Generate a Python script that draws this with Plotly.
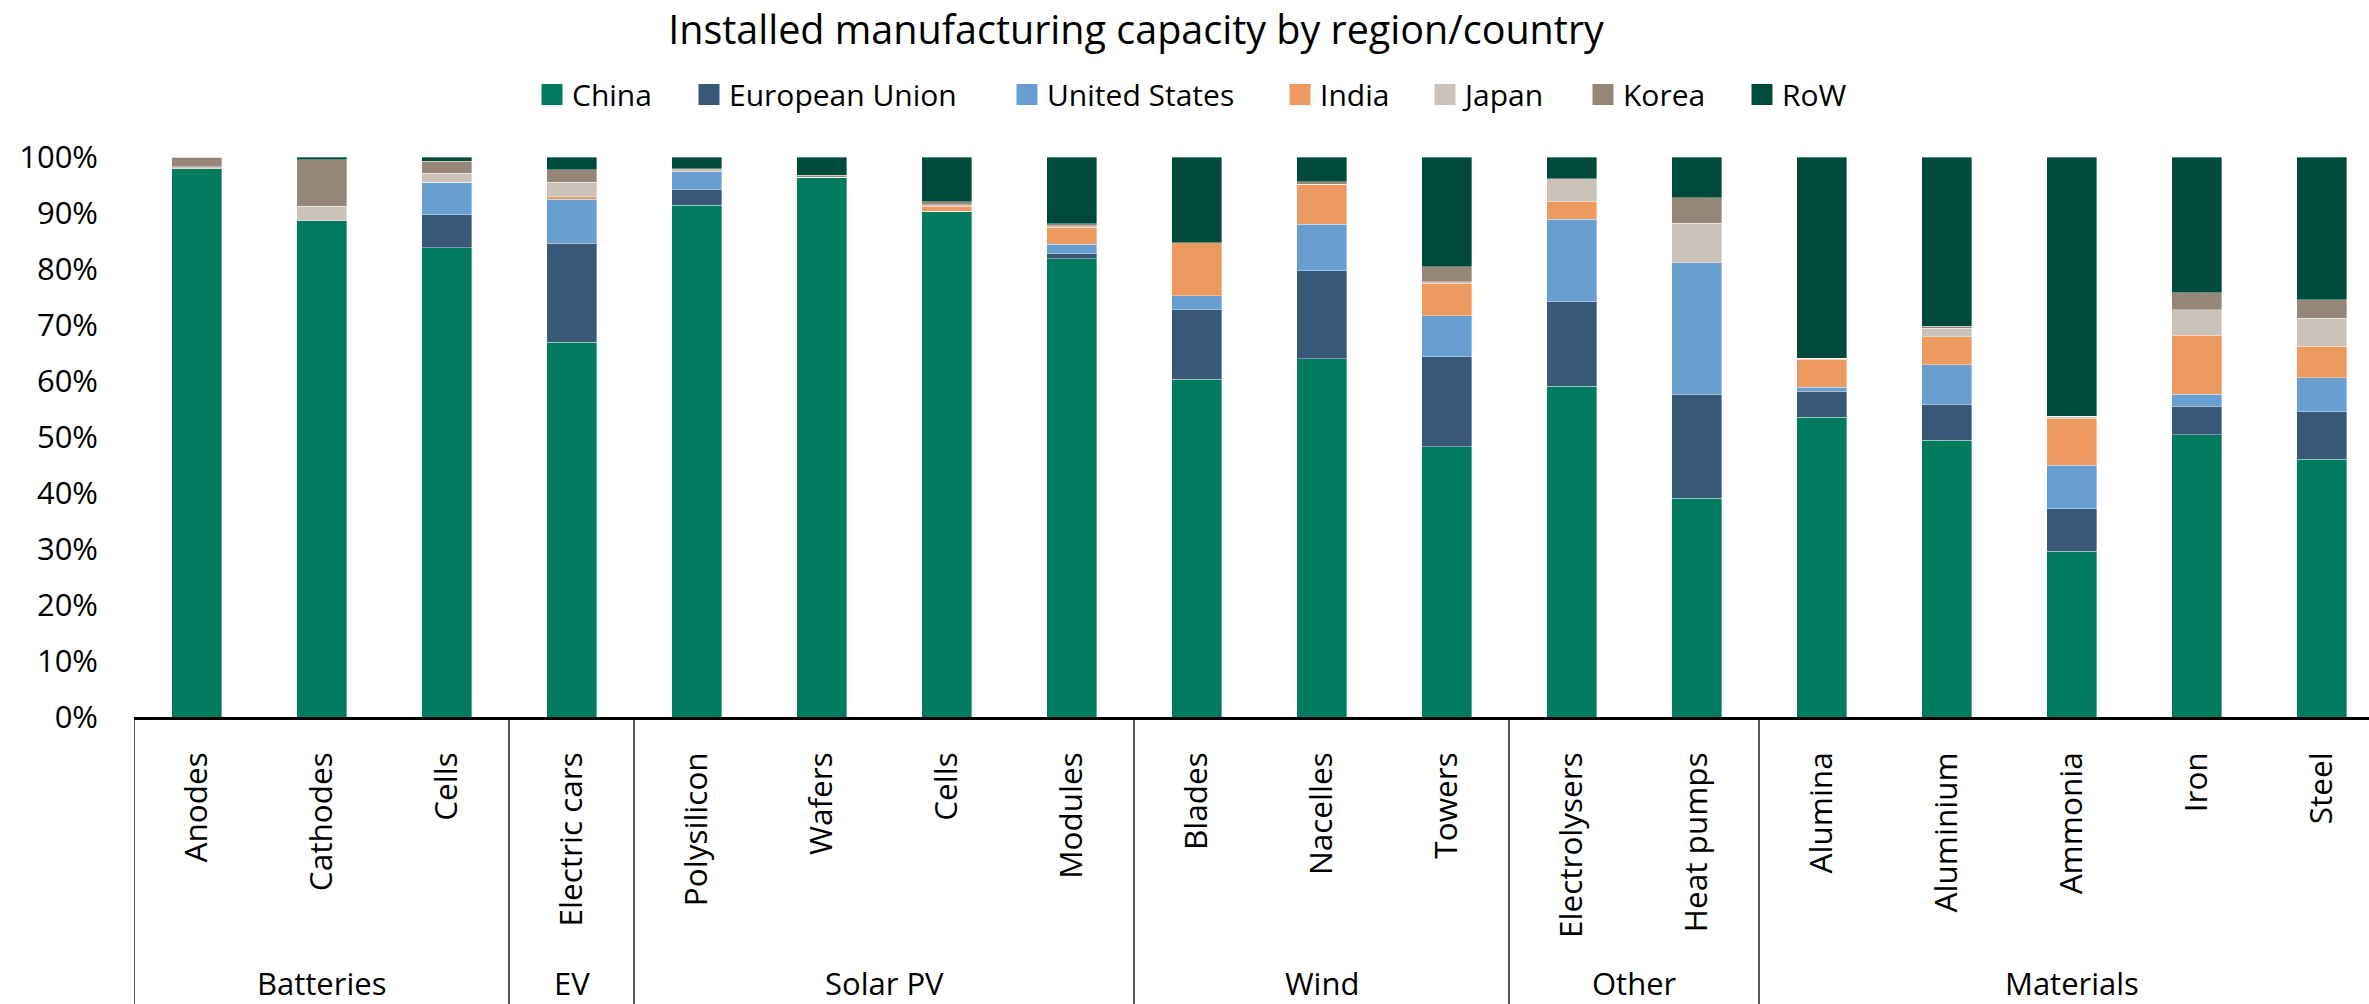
import plotly.graph_objects as go

categories = ["Anodes", "Cathodes", "Cells", "Electric cars", "Polysilicon", "Wafers", "Cells",
              "Modules", "Blades", "Nacelles", "Towers", "Electrolysers", "Heat pumps",
              "Alumina", "Aluminium", "Ammonia", "Iron", "Steel"]
groups = ["Batteries", "EV", "Solar PV", "Wind", "Other", "Materials"]
group_sizes = [3, 1, 4, 3, 2, 5]

china = [97.9, 88.5, 83.6, 66.9, 91.4, 96.4, 90.3, 81.8, 60.3, 63.9, 48.3, 59.1, 39.1, 53.6, 49.4, 29.6, 50.3, 46.0]
eu    = [0.0, 0.0, 5.9, 17.7, 2.8, 0.0, 0.1, 0.95, 12.4, 15.7, 16.1, 15.1, 18.6, 4.7, 6.4, 7.6, 5.1, 8.5]
us    = [0.0, 0.0, 5.8, 7.9, 3.2, 0.0, 0.0, 1.7, 2.5, 8.3, 7.3, 14.8, 23.5, 0.7, 7.1, 7.75, 2.1, 6.1]
india = [0.0, 0.0, 0.0, 0.4, 0.0, 0.0, 0.9, 3.0, 9.5, 7.1, 5.8, 3.2, 0.0, 5.0, 5.0, 8.3, 10.5, 5.65]
japan = [0.4, 2.6, 1.6, 2.6, 0.5, 0.0, 0.25, 0.25, 0.0, 0.0, 0.25, 4.0, 7.1, 0.2, 1.5, 0.5, 4.6, 4.95]
korea = [1.7, 8.3, 2.1, 2.2, 0.0, 0.3, 0.55, 0.4, 0.0, 0.5, 2.7, 0.0, 4.5, 0.0, 0.36, 0.0, 3.0, 3.3]
row   = [0.0, 0.5, 0.8, 2.3, 2.1, 3.3, 8.0, 11.9, 15.3, 4.4, 19.6, 3.9, 7.3, 36.0, 30.2, 46.3, 24.2, 25.5]

series_names = ["China", "European Union", "United States", "India", "Japan", "Korea", "RoW"]
series_values = [china, eu, us, india, japan, korea, row]
series_colors = ["#007B60", "#375877", "#699ED0", "#EC9A5F", "#CBC2BA", "#958677", "#004A3C"]

FONT = "Open Sans"
W, H = 2369, 1004
ML, MT, PH = 134, 157, 560
PW = W - ML
x = list(range(len(categories)))
totals = [sum(vals[i] for vals in series_values) for i in x]

fig = go.Figure()
for name, vals, color in zip(series_names, series_values, series_colors):
    fig.add_trace(go.Bar(
        x=x, y=[v / t for v, t in zip(vals, totals)], name=name, showlegend=False,
        marker=dict(color=color, line=dict(color="rgba(255,255,255,0.45)", width=0.8)),
        width=0.4,
    ))

# legend entries: one legend per series so spacing follows the reference
legend_centers_px = [553, 710, 1028, 1301, 1446, 1604, 1763]  # swatch centres in figure px
legends = {}
for k, (name, color) in enumerate(zip(series_names, series_colors)):
    lid = "legend" if k == 0 else f"legend{k + 1}"
    fig.add_trace(go.Scatter(
        x=[None], y=[None], mode="markers", name=name, legend=lid, showlegend=True,
        marker=dict(symbol="square", size=16, color=color, line=dict(color=color, width=5)),
    ))
    legends[lid] = dict(
        orientation="h", x=(legend_centers_px[k] - 21 - ML) / PW, xanchor="left",
        y=1.1116, yanchor="middle", itemsizing="trace", bgcolor="rgba(0,0,0,0)",
        font=dict(family=FONT, size=30, color="black"),
    )

# group dividers and labels
bounds = [-0.5]
for s in group_sizes:
    bounds.append(bounds[-1] + s)
shapes = []
annotations = []
for i, g in enumerate(groups):
    shapes.append(dict(type="line", xref="x", yref="paper", x0=bounds[i], x1=bounds[i],
                       y0=0, y1=-0.53, line=dict(color="black", width=1.3)))
    annotations.append(dict(text=g, xref="x", yref="paper", x=(bounds[i] + bounds[i + 1]) / 2,
                            y=-0.475, yanchor="middle", xanchor="center", showarrow=False,
                            font=dict(family=FONT, size=31, color="black")))

fig.update_layout(
    width=W, height=H,
    margin=dict(l=ML, r=0, t=MT, b=H - MT - PH, pad=0),
    paper_bgcolor="white", plot_bgcolor="white",
    barmode="stack",
    title=dict(text="Installed manufacturing capacity by region/country",
               x=1136 / W, xanchor="center", y=1 - 16 / H, yanchor="top",
               font=dict(family=FONT, size=39.5, color="black")),
    font=dict(family=FONT, color="black"),
    shapes=shapes, annotations=annotations,
    xaxis=dict(range=[-0.5, -0.5 + PW / 125.0], tickmode="array", tickvals=x, ticktext=categories,
               tickangle=-90, showline=True, linecolor="black", linewidth=2.5,
               showgrid=False, zeroline=False, ticks="", ticklabelstandoff=20, automargin=False,
               tickfont=dict(family=FONT, size=31.5, color="black")),
    yaxis=dict(range=[0, 1], tickformat=".0%", dtick=0.1, showgrid=False, zeroline=False,
               showline=False, ticks="", ticklabelstandoff=35, automargin=False,
               tickfont=dict(family=FONT, size=31, color="black")),
    **legends,
)
fig.write_html("out.html", config={"displayModeBar": False},
               post_script="document.body.style.margin='0';document.body.style.overflow='hidden';")
